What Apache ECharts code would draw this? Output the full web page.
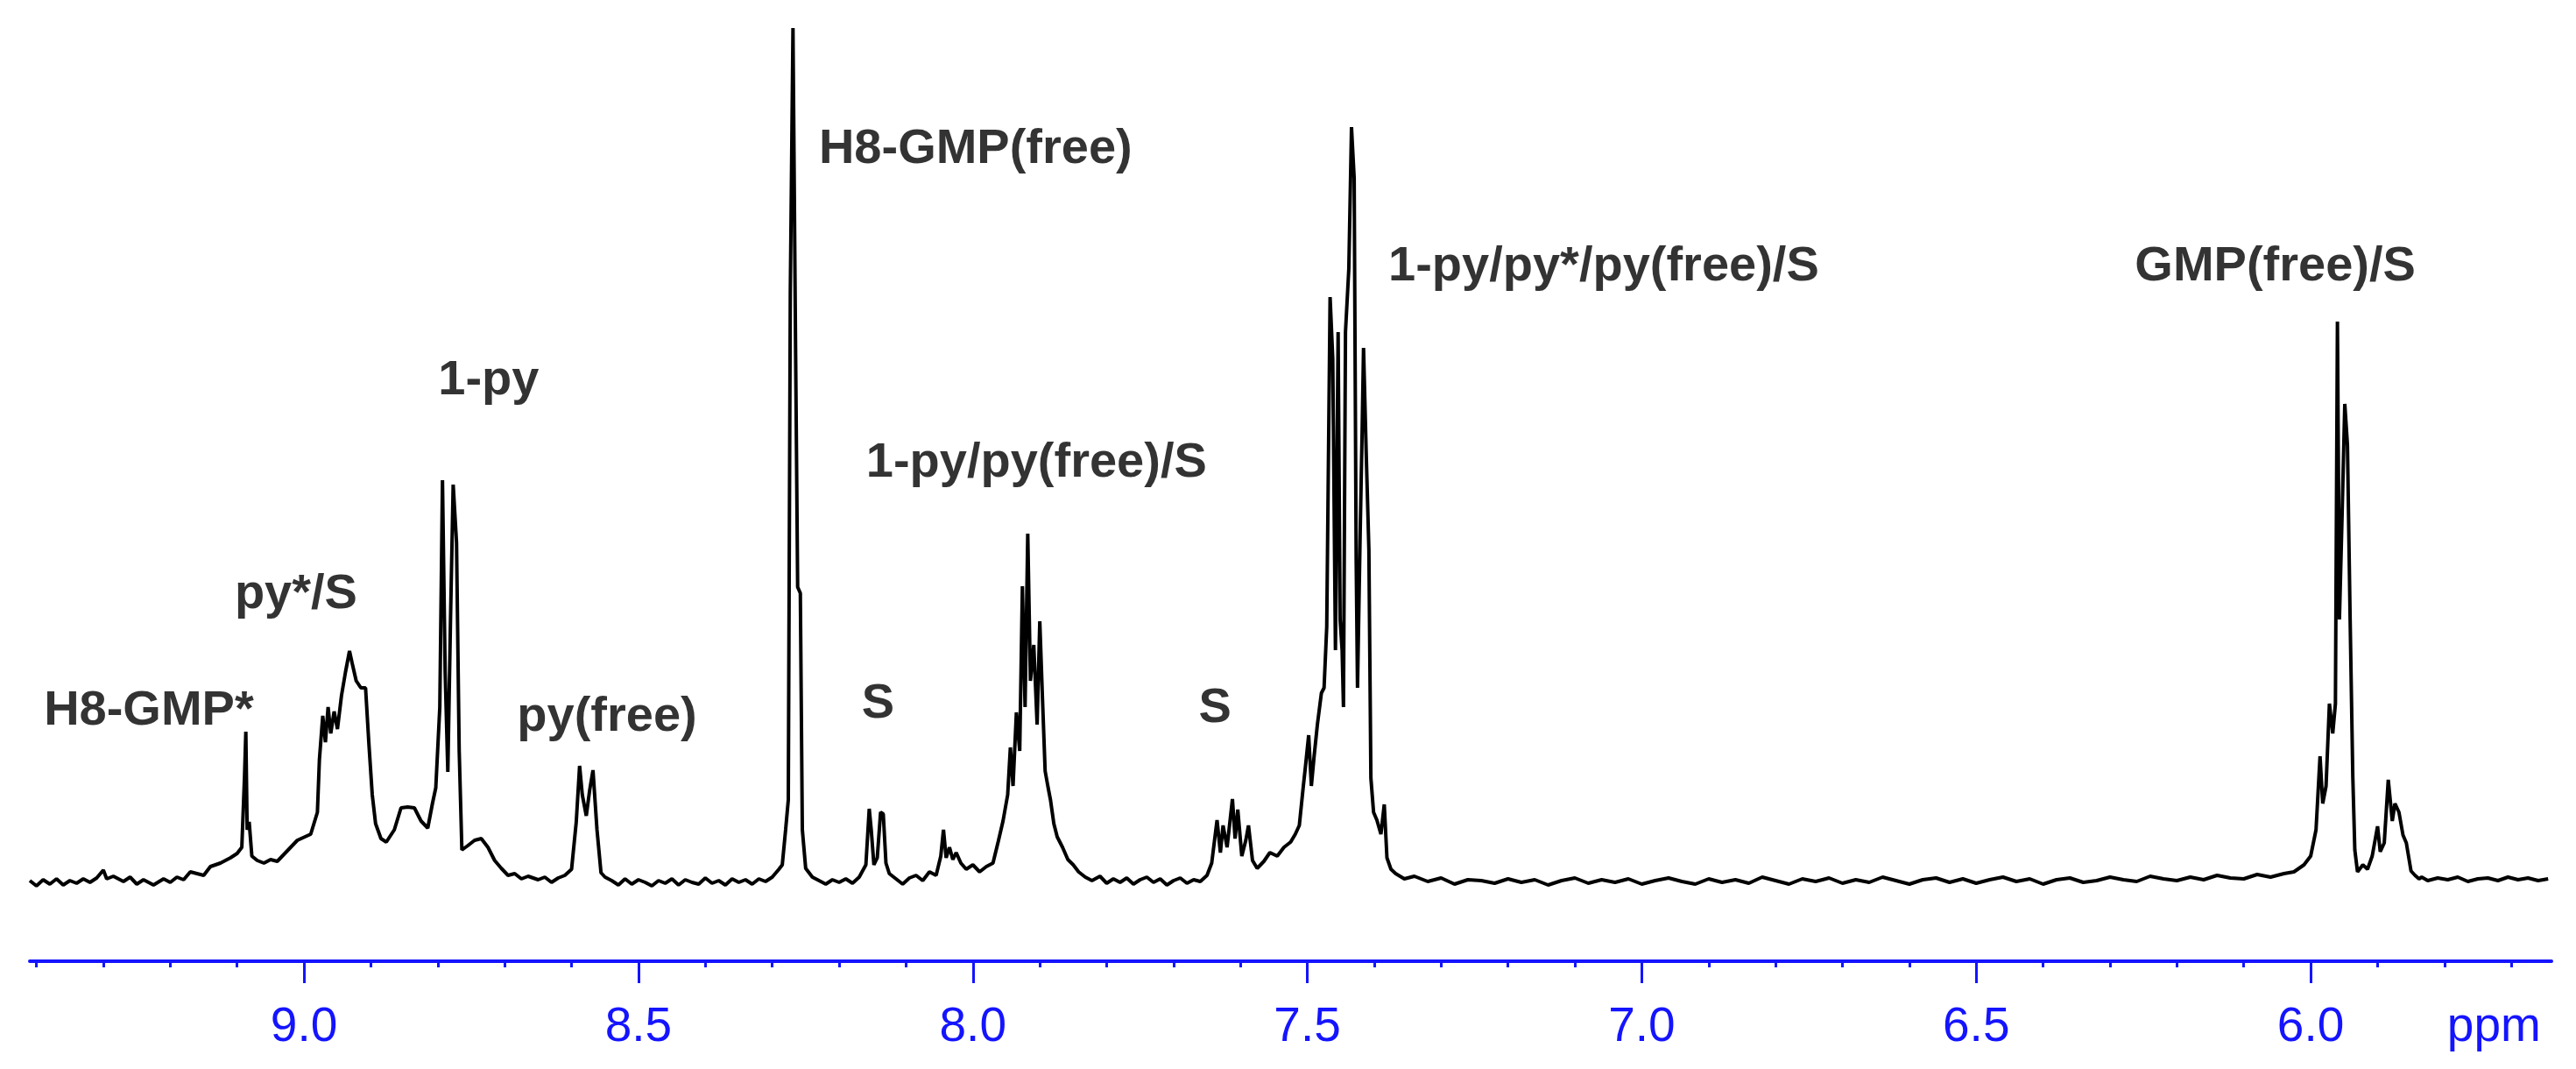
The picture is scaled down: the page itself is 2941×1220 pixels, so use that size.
<!DOCTYPE html>
<html>
<head>
<meta charset="utf-8">
<script src="https://cdn.jsdelivr.net/npm/echarts@6/dist/echarts.min.js"></script>
<style>
  html, body { margin: 0; padding: 0; background: #fff; }
  #nmr { width: 2941px; height: 1220px; }
</style>
</head>
<body>
<div id="nmr"></div>
<script>
// chemical shift (ppm) and intensity
var shift = [
  9.410, 9.400, 9.390, 9.380, 9.370, 9.360, 9.350, 9.340, 9.330, 9.320, 9.310, 9.300, 9.295, 9.285, 9.270, 9.260,
  9.250, 9.240, 9.225, 9.210, 9.200, 9.190, 9.180, 9.170, 9.160, 9.150, 9.140, 9.125, 9.110, 9.100, 9.093, 9.089,
  9.087, 9.085, 9.082, 9.078, 9.070, 9.060, 9.050, 9.040, 9.030, 9.020, 9.010, 8.990, 8.980, 8.977, 8.972, 8.968,
  8.964, 8.960, 8.955, 8.950, 8.944, 8.938, 8.932, 8.928, 8.922, 8.915, 8.908, 8.903, 8.898, 8.893, 8.885, 8.877,
  8.865, 8.855, 8.845, 8.835, 8.825, 8.815, 8.808, 8.803, 8.797, 8.793, 8.789, 8.785, 8.781, 8.777, 8.772, 8.768,
  8.764, 8.755, 8.745, 8.735, 8.725, 8.715, 8.705, 8.695, 8.685, 8.675, 8.665, 8.650, 8.640, 8.630, 8.620, 8.610,
  8.600, 8.593, 8.588, 8.584, 8.578, 8.573, 8.568, 8.562, 8.556, 8.550, 8.540, 8.530, 8.520, 8.510, 8.500, 8.490,
  8.480, 8.470, 8.460, 8.450, 8.440, 8.430, 8.420, 8.410, 8.400, 8.390, 8.380, 8.370, 8.360, 8.350, 8.340, 8.330,
  8.320, 8.310, 8.300, 8.290, 8.285, 8.280, 8.276, 8.273, 8.269, 8.265, 8.262, 8.258, 8.255, 8.250, 8.240, 8.230,
  8.220, 8.210, 8.200, 8.190, 8.180, 8.170, 8.160, 8.155, 8.152, 8.148, 8.143, 8.138, 8.134, 8.130, 8.125, 8.115,
  8.105, 8.095, 8.085, 8.075, 8.065, 8.055, 8.048, 8.044, 8.040, 8.035, 8.030, 8.025, 8.018, 8.010, 8.000, 7.990,
  7.980, 7.970, 7.962, 7.955, 7.948, 7.944, 7.940, 7.935, 7.930, 7.926, 7.922, 7.918, 7.914, 7.909, 7.904, 7.900,
  7.896, 7.892, 7.888, 7.884, 7.879, 7.874, 7.866, 7.858, 7.850, 7.842, 7.832, 7.822, 7.810, 7.800, 7.790, 7.780,
  7.770, 7.760, 7.750, 7.740, 7.730, 7.720, 7.710, 7.700, 7.690, 7.680, 7.670, 7.660, 7.650, 7.643, 7.635, 7.630,
  7.626, 7.620, 7.612, 7.608, 7.604, 7.598, 7.592, 7.588, 7.582, 7.575, 7.565, 7.556, 7.545, 7.535, 7.525, 7.518,
  7.512, 7.506, 7.503, 7.498, 7.494, 7.490, 7.485, 7.479, 7.475, 7.471, 7.466, 7.462, 7.458, 7.454, 7.451, 7.448,
  7.446, 7.443, 7.438, 7.434, 7.430, 7.427, 7.425, 7.421, 7.418, 7.416, 7.412, 7.408, 7.405, 7.401, 7.396, 7.390,
  7.385, 7.381, 7.375, 7.368, 7.355, 7.340, 7.320, 7.300, 7.280, 7.260, 7.240, 7.220, 7.200, 7.180, 7.160, 7.140,
  7.120, 7.100, 7.080, 7.060, 7.040, 7.020, 7.000, 6.980, 6.960, 6.940, 6.920, 6.900, 6.880, 6.860, 6.840, 6.820,
  6.800, 6.780, 6.760, 6.740, 6.720, 6.700, 6.680, 6.660, 6.640, 6.620, 6.600, 6.580, 6.560, 6.540, 6.520, 6.500,
  6.480, 6.460, 6.440, 6.420, 6.400, 6.380, 6.360, 6.340, 6.320, 6.300, 6.280, 6.260, 6.240, 6.220, 6.200, 6.180,
  6.160, 6.140, 6.120, 6.100, 6.080, 6.060, 6.040, 6.025, 6.010, 6.000, 5.992, 5.986, 5.982, 5.977, 5.972, 5.967,
  5.963, 5.960, 5.957, 5.953, 5.949, 5.945, 5.941, 5.937, 5.934, 5.930, 5.922, 5.915, 5.908, 5.900, 5.896, 5.890,
  5.884, 5.878, 5.874, 5.868, 5.862, 5.857, 5.850, 5.844, 5.838, 5.834, 5.825, 5.810, 5.795, 5.780, 5.765, 5.750,
  5.735, 5.720, 5.705, 5.690, 5.675, 5.660, 5.645
];
var intensity = [
  2, -4, 3, -2, 4, -3, 2, -1, 4, 0, 5, 14, 4, 7, 1, 6,
  -2, 3, -3, 4, 0, 6, 3, 12, 10, 8, 18, 22, 28, 33, 40, 120,
  172, 60, 69, 30, 25, 22, 26, 24, 32, 40, 48, 55, 80, 140, 190, 160,
  200, 170, 195, 175, 213, 240, 264, 250, 230, 222, 222, 158, 100, 67, 50, 46,
  60, 85, 86, 85, 70, 62, 90, 108, 200, 459, 240, 126, 300, 454, 388, 150,
  37, 42, 48, 50, 40, 25, 16, 8, 10, 4, 7, 3, 6, 0, 5, 8,
  15, 69, 133, 100, 76, 105, 128, 60, 11, 6, 2, -3, 4, -2, 3, 0,
  -4, 2, -1, 4, -3, 3, 0, -2, 5, -1, 2, -3, 4, 0, 3, -2,
  4, 1, 6, 15, 20, 60, 94, 673, 975, 600, 337, 330, 60, 16, 6, 2,
  -2, 3, 0, 4, -1, 6, 20, 84, 60, 20, 28, 80, 78, 22, 10, 4,
  -2, 5, 8, 2, 12, 8, 30, 60, 28, 40, 26, 34, 22, 15, 20, 12,
  18, 22, 47, 70, 100, 154, 110, 194, 150, 338, 200, 398, 230, 271, 180, 298,
  210, 127, 110, 94, 67, 52, 40, 26, 20, 12, 6, 2, 7, -1, 4, 0,
  5, -2, 3, 6, 0, 4, -3, 2, 5, -1, 3, 1, 8, 22, 71, 34,
  65, 40, 95, 50, 83, 30, 48, 65, 25, 16, 24, 34, 30, 40, 46, 55,
  65, 110, 131, 168, 110, 143, 180, 216, 222, 292, 668, 598, 265, 628, 300, 265,
  200, 628, 700, 862, 804, 368, 222, 400, 519, 610, 490, 380, 119, 80, 71, 55,
  89, 28, 15, 10, 4, 7, 1, 5, -2, 3, 2, -1, 4, 0, 3, -3,
  2, 5, -1, 3, 0, 4, -2, 2, 5, 1, -2, 4, 0, 3, -1, 6,
  2, -2, 4, 1, 5, -1, 3, 0, 6, 2, -2, 3, 5, 0, 4, -1,
  3, 6, 1, 4, -2, 3, 5, 0, 2, 6, 3, 1, 7, 4, 2, 6,
  3, 8, 5, 4, 9, 6, 10, 12, 20, 30, 60, 144, 90, 110, 204, 170,
  204, 640, 300, 420, 546, 499, 300, 120, 37, 12, 20, 15, 30, 64, 35, 45,
  117, 70, 90, 80, 54, 45, 13, 8, 4, 6, 2, 5, 3, 6, 1, 4,
  5, 2, 6, 3, 5, 2, 4
];

// peak assignments: position (ppm), height of text centre, text
var peakNames = ['H8-GMP*', 'py*/S', '1-py', 'py(free)', 'H8-GMP(free)', 'S', '1-py/py(free)/S', 'S', '1-py/py*/py(free)/S', 'GMP(free)/S'];
var nameShift = [9.232, 9.012, 8.724, 8.547, 7.996, 8.142, 7.905, 7.638, 7.057, 6.053];
var nameHeight = [195, 328, 572, 188, 836, 203, 478, 198, 702, 702];

var minorTicks = [9.4, 9.3, 9.2, 9.1, 9.0, 8.9, 8.8, 8.7, 8.6, 8.5, 8.4, 8.3, 8.2, 8.1, 8.0, 7.9, 7.8, 7.7, 7.6, 7.5,
  7.4, 7.3, 7.2, 7.1, 7.0, 6.9, 6.8, 6.7, 6.6, 6.5, 6.4, 6.3, 6.2, 6.1, 6.0, 5.9, 5.8, 5.7];
var majorTicks = [9.0, 8.5, 8.0, 7.5, 7.0, 6.5, 6.0];
var unitAt = 5.726;

var spectrum = shift.map(function(v, i) { return [v, intensity[i]]; });
var names = nameShift.map(function(v, i) { return { value: [v, nameHeight[i]], name: peakNames[i] }; });

var blue = '#1414ff';
var chart = echarts.init(document.getElementById('nmr'));
chart.setOption({
  animation: false,
  backgroundColor: '#ffffff',
  grid: { left: 34, right: 28, top: 0, bottom: 123 },
  xAxis: [{
    type: 'value', min: 5.64, max: 9.41, inverse: true,
    splitLine: { show: false },
    axisLine: { show: true, onZero: false, lineStyle: { color: blue, width: 4 } },
    axisTick: { show: true, customValues: minorTicks, length: 7, lineStyle: { color: blue, width: 3 } },
    axisLabel: { show: false }
  }, {
    type: 'value', min: 5.64, max: 9.41, inverse: true, position: 'bottom',
    splitLine: { show: false },
    axisLine: { show: false, onZero: false },
    axisTick: { show: true, customValues: majorTicks, length: 25, lineStyle: { color: blue, width: 3 } },
    axisLabel: {
      customValues: majorTicks.concat([unitAt]),
      margin: 48, color: blue, fontSize: 55, fontFamily: 'Liberation Sans, Arial, sans-serif',
      formatter: function(v) { return v < 5.9 ? 'ppm' : v.toFixed(1); }
    }
  }],
  yAxis: { type: 'value', min: -90, max: 1007, show: false, splitLine: { show: false } },
  series: [{
    type: 'line', data: spectrum, showSymbol: false, xAxisIndex: 0,
    lineStyle: { color: '#000', width: 4 }
  }, {
    type: 'scatter', data: names, symbolSize: 0, xAxisIndex: 0,
    label: {
      show: true, position: 'inside', formatter: '{b}',
      color: '#000', fontSize: 56, fontWeight: 'bold', fontFamily: 'Liberation Sans, Arial, sans-serif'
    }
  }]
});
</script>
</body>
</html>
